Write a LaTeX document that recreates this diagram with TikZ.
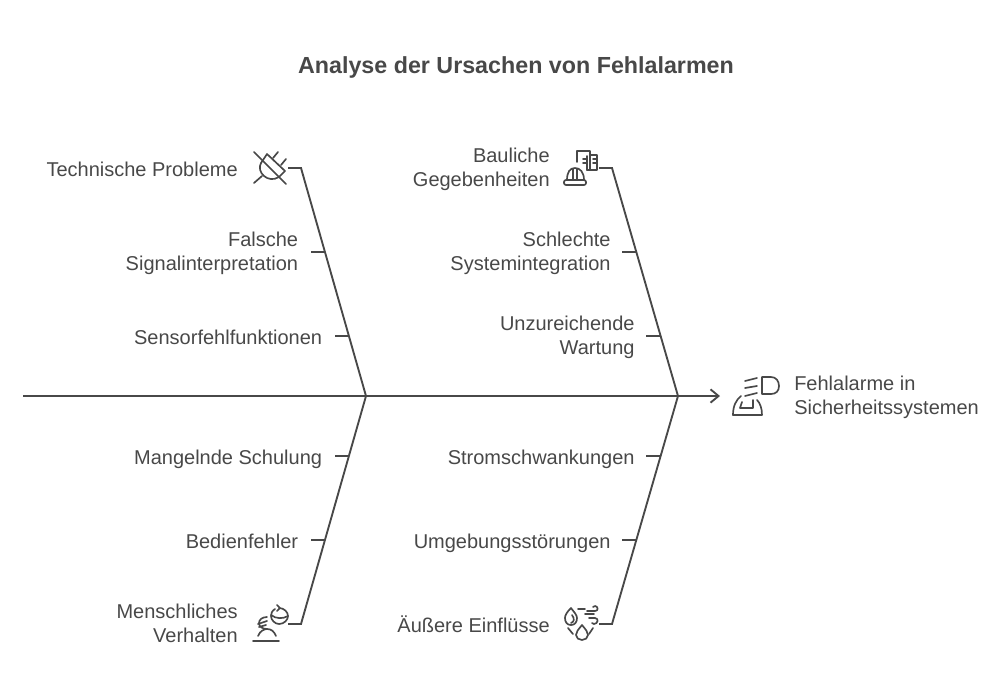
\documentclass[tikz,border=0pt]{standalone}
\usepackage{fontspec}
\setmainfont{Liberation Sans}
\usepackage{xcolor}
\usetikzlibrary{arrows.meta, positioning}
\definecolor{inkgrey}{HTML}{484848}
\tikzset{
  bone/.style={draw=inkgrey, line width=1.4pt},
  icon/.style={draw=inkgrey, line width=1.25pt, line cap=round, line join=round},
  lbl/.style={text=inkgrey, font=\fontsize{15}{18}\selectfont, align=right, anchor=east, inner xsep=9.5pt, inner ysep=0pt, yshift=-2.4pt,
    execute at begin node=\strut, execute at end node=\strut},
}
\begin{document}
\begin{tikzpicture}[x=0.75pt, y=-0.75pt]
  \useasboundingbox (0,0) rectangle (1008,697);

  % Titel
  \node[text=inkgrey, font=\fontsize{17.45}{22}\selectfont\bfseries, yshift=-1.8pt, execute at begin node=\strut] (titel) at (516,65) {Analyse der Ursachen von Fehlalarmen};

  % Hauptachse
  \coordinate (start) at (23,396);
  \coordinate (join1) at (366,396);
  \coordinate (join2) at (678,396);
  \coordinate (spitze) at (720,396);
  \draw[bone, -{Straight Barb[length=6pt, width=10pt]}] (start) -- (spitze);

  % Hauptgraeten
  \foreach \nm/\x/\y/\j in {a/301/168/join1, b/612/168/join2, c/301/624/join1, d/612/624/join2} {
    \coordinate (top\nm) at (\x,\y);
    \coordinate (stub\nm) at (\x-13,\y);
    \draw[bone, line join=miter] (stub\nm) -- (top\nm) -- (\j);
  }

  % Texte an den Hauptgraeten
  \node[lbl, inner xsep=0pt] (technik) at (238,168) {Technische Probleme};
  \node[lbl, inner xsep=0pt] (bau) at (550,168) {Bauliche\\Gegebenheiten};
  \node[lbl, inner xsep=0pt] (mensch) at (238,624) {Menschliches\\Verhalten};
  \node[lbl, inner xsep=0pt] (aussen) at (550,624) {Äußere Einflüsse};

  % Nebengraeten
  \foreach \nm/\x/\y/\d/\txt in {
    signal/311/252/0/{Falsche\\Signalinterpretation},
    sensor/335/336/0/{Sensorfehlfunktionen},
    schulung/335/456/0/{Mangelnde Schulung},
    bedien/311/540/0/{Bedienfehler},
    system/622/252/1.5/{Schlechte\\Systemintegration},
    wartung/646/336/1.5/{Unzureichende\\Wartung},
    strom/646/456/1.5/{Stromschwankungen},
    umgebung/622/540/1.5/{Umgebungsstörungen}} {
    \node[lbl] (\nm) at (\x+\d,\y) {\txt};
    \coordinate (\nm end) at (\x+14,\y);
    \coordinate (\nm start) at (\x,\y);
    \draw[bone] (\nm start) -- (\nm end);
  }

  % Ergebnis
  \node[lbl, inner xsep=0pt, anchor=west, align=left] (ergebnis) at (794,396) {Fehlalarme in\\Sicherheitssystemen};

  % Icon Stecker
  \draw[icon] (254,152) -- (286,184);
  \draw[icon] (261,163) -- (267,154) -- (285,171) -- (279,177);
  \draw[icon] (273,158) -- (278,152) (281,165) -- (286,159) (254,183) -- (262,176);
  \draw[icon] (261,163) .. controls (256,172) and (268,184) .. (279,177);

  % Icon Gebaeude
  \draw[icon] (577,162) -- (577,151) -- (590,151) -- (590,170) -- (587,170);
  \draw[icon] (590,155) -- (597,155) -- (597,170) -- (590,170);
  \draw[icon] (593,159) -- (597,159) (593,163) -- (597,163) (583,159) -- (587,159) (583,163) -- (587,163);
  \draw[icon] (587,156) -- (587,170);
  \draw[icon, rounded corners=1.5pt] (564,180) rectangle (586,185);
  \draw[icon] (567,180) .. controls (567,172) and (570,168) .. (575,168) .. controls (580,168) and (584,172) .. (584,180);
  \draw[icon] (573,169) -- (573,180) (577,169) -- (577,180);

  % Icon Scheinwerfer
  \draw[icon] (762,377) -- (771,377) .. controls (776,377) and (779,381) .. (779,386) .. controls (779,391) and (776,394) .. (771,394) -- (762,394) -- cycle;
  \draw[icon] (745,381) -- (757,378) (745,388) -- (757,386) (745,396) -- (757,393);
  \draw[icon] (733,415) -- (762,415) .. controls (762,408) and (760,403) .. (757,400);
  \draw[icon] (733,415) .. controls (733,406) and (736,400) .. (741,396);
  \draw[icon] (740,408) -- (753,408) -- (753,400) (740,408) -- (742,402);

  % Icon Mensch
  \draw[icon] (253,641) -- (279,641);
  \draw[icon] (258,636) .. controls (260,631) and (264,629) .. (267,629) .. controls (271,629) and (274,631) .. (276,636);
  \draw[icon] (267,617) .. controls (262,617) and (259,620) .. (259,623) .. controls (259,627) and (263,629) .. (267,629);
  \draw[icon] (258,624) -- (267,621) (259,627) -- (266,625);
  \draw[icon] (275,609) .. controls (272,611) and (271,613) .. (271,616) .. controls (271,620) and (275,624) .. (279,624) .. controls (284,624) and (288,620) .. (288,616) .. controls (288,612) and (284,608) .. (279,608);
  \draw[icon] (271,615) .. controls (276,619) and (283,619) .. (288,616) (277,605) -- (280,608) -- (277,611);

  % Icon Wetter
  \draw[icon] (571,608) .. controls (567,612) and (565,615) .. (565,618) .. controls (565,622) and (567,625) .. (571,625) .. controls (575,625) and (577,622) .. (577,618) .. controls (577,615) and (574,612) .. (571,608) -- cycle;
  \draw[icon] (572,615) .. controls (575,619) and (574,622) .. (571,623);
  \draw[icon] (582,625) .. controls (578,630) and (576,632) .. (576,635) .. controls (576,638) and (579,640) .. (582,640) .. controls (585,640) and (588,638) .. (588,635) .. controls (588,632) and (586,630) .. (582,625) -- cycle;
  \draw[icon] (568,628) -- (573,634) (593,628) -- (589,634);
  \draw[icon] (578,609) -- (585,609);
  \draw[icon] (587,611) -- (595,611) .. controls (599,611) and (598,606) .. (595,606) -- (593,607);
  \draw[icon] (589,618) -- (595,618) .. controls (599,618) and (598,624) .. (594,624) -- (592,623);
  \draw[icon] (585,614) -- (594,614);
\end{tikzpicture}
\end{document}
